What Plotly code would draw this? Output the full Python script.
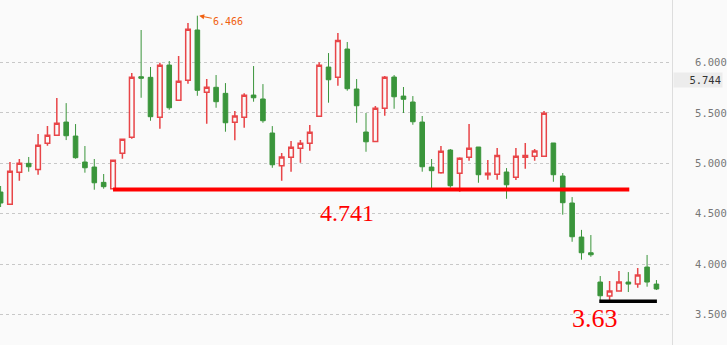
import plotly.graph_objects as go

# ---- data ----
opens = [4.715, 4.593, 4.911, 5.000, 4.940, 5.199, 5.278, 5.410, 5.271, 5.013,
         4.963, 4.811, 4.748, 5.099, 5.258, 5.860, 5.854, 5.457, 5.976, 5.626,
         5.824, 6.324, 5.705, 5.755, 5.695, 5.407, 5.457, 5.678, 5.639, 5.301,
         4.976, 5.060, 5.149, 5.199, 5.467, 5.956, 5.854, 6.135, 5.738, 5.311,
         5.218, 5.546, 5.857, 5.668, 5.609, 5.410, 4.963, 4.907, 5.132, 4.901,
         5.060, 5.162, 4.887, 4.891, 4.914, 4.861, 5.060, 5.070, 5.070, 5.202,
         4.874, 4.606, 4.268, 4.112, 3.821, 3.682, 3.732, 3.821, 3.801, 3.970,
         3.801]
highs = [4.775, 5.013, 5.043, 5.063, 5.291, 5.371, 5.648, 5.598, 5.390, 5.172,
         5.043, 4.894, 5.030, 5.240, 5.897, 6.324, 5.957, 5.999, 6.016, 6.066,
         6.393, 6.466, 5.837, 5.877, 5.797, 5.519, 5.695, 5.966, 5.787, 5.370,
         5.102, 5.221, 5.231, 5.380, 6.003, 6.095, 6.294, 6.205, 5.837, 5.500,
         5.569, 5.867, 5.877, 5.758, 5.668, 5.470, 5.043, 5.172, 5.142, 5.060,
         5.390, 5.162, 5.033, 5.152, 4.953, 5.152, 5.202, 5.142, 5.519, 5.202,
         4.904, 4.665, 4.339, 4.288, 3.881, 3.831, 3.930, 3.920, 3.960, 4.090,
         3.841]
lows = [4.566, 4.590, 4.827, 4.917, 4.887, 5.175, 5.275, 5.231, 5.046, 4.907,
        4.738, 4.748, 4.741, 5.046, 5.244, 5.651, 5.423, 5.344, 5.532, 5.620,
        5.790, 5.671, 5.393, 5.552, 5.314, 5.230, 5.354, 5.612, 5.403, 4.956,
        4.827, 4.917, 5.006, 5.125, 5.460, 5.602, 5.771, 5.721, 5.403, 5.115,
        5.210, 5.473, 5.542, 5.500, 5.383, 4.917, 4.748, 4.897, 4.758, 4.718,
        5.026, 4.807, 4.837, 4.837, 4.648, 4.834, 4.946, 5.026, 5.065, 4.817,
        4.490, 4.221, 4.043, 4.072, 3.642, 3.630, 3.725, 3.722, 3.765, 3.775,
        3.742]
closes = [4.606, 4.921, 5.000, 4.966, 5.179, 5.278, 5.397, 5.274, 5.056, 4.956,
          4.807, 4.768, 5.030, 5.238, 5.854, 5.845, 5.463, 5.973, 5.552, 5.814,
          6.331, 5.725, 5.755, 5.612, 5.403, 5.470, 5.675, 5.651, 5.423, 4.986,
          5.063, 5.159, 5.199, 5.308, 5.973, 5.830, 6.221, 5.741, 5.572, 5.214,
          5.546, 5.854, 5.661, 5.636, 5.413, 4.966, 4.927, 5.119, 4.778, 5.050,
          5.149, 4.887, 4.901, 5.079, 4.787, 5.070, 5.079, 5.122, 5.497, 4.887,
          4.609, 4.271, 4.112, 4.092, 3.685, 3.732, 3.821, 3.801, 3.891, 3.821,
          3.752]
bar_index = list(range(len(opens)))

y_ticks = [3.5, 4.0, 4.5, 5.0, 5.5, 6.0]
y_tick_labels = ["3.500", "4.000", "4.500", "5.000", "5.500", "6.000"]

support_level = 4.741
support_span = [12, 67.1]
low_level = 3.63
low_span = [63.9, 70.05]
peak_level = 6.466
peak_index = 21
marker_price = 5.744

BG = "#fafafa"
RED = "#e84548"
GREEN = "#3a953b"

fig = go.Figure()
fig.add_trace(go.Candlestick(
    x=bar_index, open=opens, high=highs, low=lows, close=closes,
    increasing=dict(line=dict(color=RED, width=1.5), fillcolor=BG),
    decreasing=dict(line=dict(color=GREEN, width=1), fillcolor=GREEN),
    whiskerwidth=0, showlegend=False, hoverinfo="skip",
))

fig.add_trace(go.Scatter(
    x=support_span, y=[support_level, support_level], mode="lines",
    line=dict(color="#ff0000", width=4), showlegend=False, hoverinfo="skip"))
fig.add_trace(go.Scatter(
    x=low_span, y=[low_level, low_level], mode="lines",
    line=dict(color="#000000", width=3.5), showlegend=False, hoverinfo="skip"))

fig.add_annotation(x=37, y=support_level, text=f"{support_level:.3f}",
                   showarrow=False, yshift=-24,
                   font=dict(family="Liberation Serif, DejaVu Serif, serif", size=24, color="#ff0000"))
fig.add_annotation(x=63.4, y=low_level, text=f"{low_level:.2f}",
                   showarrow=False, yshift=-17,
                   font=dict(family="Liberation Serif, DejaVu Serif, serif", size=26, color="#ff0000"))
fig.add_annotation(x=peak_index + 0.2, y=peak_level, text=f"{peak_level:.3f}",
                   showarrow=True, ax=29, ay=6, arrowhead=2, arrowsize=1,
                   arrowwidth=1, arrowcolor="#f06010", standoff=0,
                   font=dict(family="DejaVu Sans Mono, monospace", size=10, color="#f06010"))
fig.add_annotation(xref="paper", x=1, xanchor="left", xshift=1,
                   y=marker_price, yshift=8, text=f"{marker_price:.3f}",
                   showarrow=False, bgcolor="#ececec", width=46, align="right",
                   borderpad=1,
                   font=dict(family="DejaVu Sans Mono, monospace", size=10.5, color="#333333"))

fig.update_layout(
    width=727, height=345,
    margin=dict(l=0, r=55, t=0, b=0),
    paper_bgcolor=BG, plot_bgcolor=BG,
    xaxis=dict(range=[-0.064, 71.66], visible=False, rangeslider=dict(visible=False),
               showgrid=False, zeroline=False),
    yaxis=dict(side="right", range=[3.196, 6.622], tickvals=y_ticks, ticktext=y_tick_labels,
               showgrid=True, gridcolor="#c8c8c8", griddash="dot", gridwidth=1,
               showline=True, linecolor="#dddddd", linewidth=1, mirror=False,
               zeroline=False, ticks="", ticklabelstandoff=20,
               tickfont=dict(family="DejaVu Sans Mono, monospace", size=10.5, color="#777777")),
)

fig.write_html("out.html")
